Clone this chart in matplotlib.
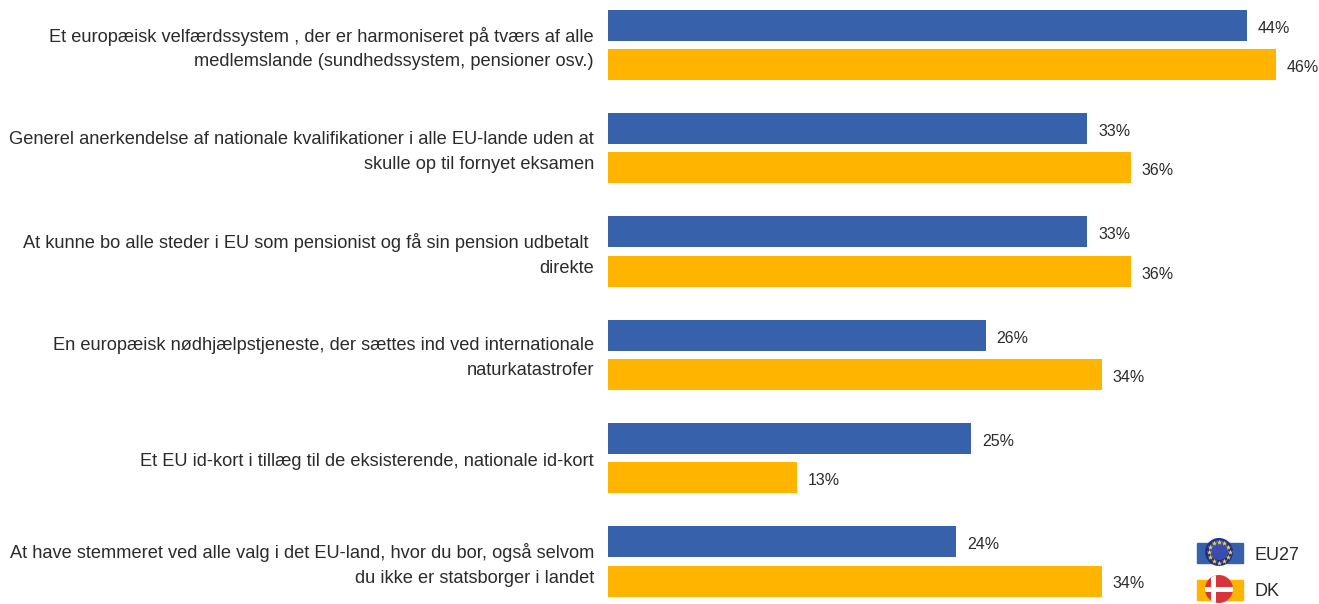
import matplotlib
matplotlib.use('Agg')
import matplotlib.pyplot as plt
from matplotlib.patches import Circle, Rectangle
import numpy as np

plt.rcParams['font.family'] = ['Liberation Sans', 'DejaVu Sans']

categories = [
    'Et europæisk velfærdssystem , der er harmoniseret på tværs af alle\nmedlemslande (sundhedssystem, pensioner osv.)',
    'Generel anerkendelse af nationale kvalifikationer i alle EU-lande uden at\nskulle op til fornyet eksamen',
    'At kunne bo alle steder i EU som pensionist og få sin pension udbetalt \ndirekte',
    'En europæisk nødhjælpstjeneste, der sættes ind ved internationale\nnaturkatastrofer',
    'Et EU id-kort i tillæg til de eksisterende, nationale id-kort',
    'At have stemmeret ved alle valg i det EU-land, hvor du bor, også selvom\ndu ikke er statsborger i landet',
]
eu27 = [44, 33, 33, 26, 25, 24]
dk = [46, 36, 36, 34, 13, 34]

BLUE = '#3762AB'
ORANGE = '#FFB400'
TEXT = '#2B2B2B'
W, H = 1319, 604

fig = plt.figure(figsize=(W / 100, H / 100), dpi=100)
ax = fig.add_axes([608 / W, 0, 1 - 608 / W, 1])
y = np.arange(len(categories))
ax.barh(y - 0.19, eu27, height=0.30, color=BLUE)
ax.barh(y + 0.19, dk, height=0.30, color=ORANGE)
ax.set_xlim(0, (W - 608) / 14.52)
ax.set_ylim((H - 45) / 103.3, -45 / 103.3)

for i in range(len(categories)):
    ax.annotate(f'{eu27[i]}%', (eu27[i], i - 0.19), xytext=(8, -2), textcoords='offset points',
                va='center', fontsize=11.5, color=TEXT)
    ax.annotate(f'{dk[i]}%', (dk[i], i + 0.19), xytext=(8, -2), textcoords='offset points',
                va='center', fontsize=11.5, color=TEXT)
    ax.annotate(categories[i], (0, i), xytext=(-10, -2.5), textcoords='offset points',
                ha='right', va='center', ma='right', fontsize=13.15, color=TEXT,
                linespacing=1.6, annotation_clip=False)

ax.set_yticks([])
ax.xaxis.set_visible(False)
for s in ax.spines.values():
    s.set_visible(False)

# legend with the two flags, in pixel coordinates
leg = fig.add_axes([0, 0, 1, 1])
leg.set_xlim(0, W)
leg.set_ylim(H, 0)
leg.axis('off')
leg.add_patch(Rectangle((1197, 543), 46, 20, color=BLUE))
leg.add_patch(Circle((1219, 552), 14, color='#1F2F8F', lw=0))
leg.add_patch(Circle((1219, 550), 10, color='#3A4CB0', lw=0))
a = np.linspace(0, 2 * np.pi, 12, endpoint=False)
leg.scatter(1219 + 10.5 * np.cos(a), 552 + 10.5 * np.sin(a), marker='*', s=16, color='#F2D43A', lw=0)
leg.text(1254, 556, 'EU27', fontsize=13, color=TEXT, va='center')

leg.add_patch(Rectangle((1197, 580), 46, 20, color=ORANGE))
disc = Circle((1219, 589), 14, color='#D8343C', lw=0)
leg.add_patch(disc)
for r in [Rectangle((1200, 586.5), 40, 5, color='white', lw=0),
          Rectangle((1211, 570), 5, 40, color='white', lw=0)]:
    leg.add_patch(r)
    r.set_clip_path(disc)
leg.text(1254, 591, 'DK', fontsize=13, color=TEXT, va='center')

fig.savefig('out.png', dpi=100)
